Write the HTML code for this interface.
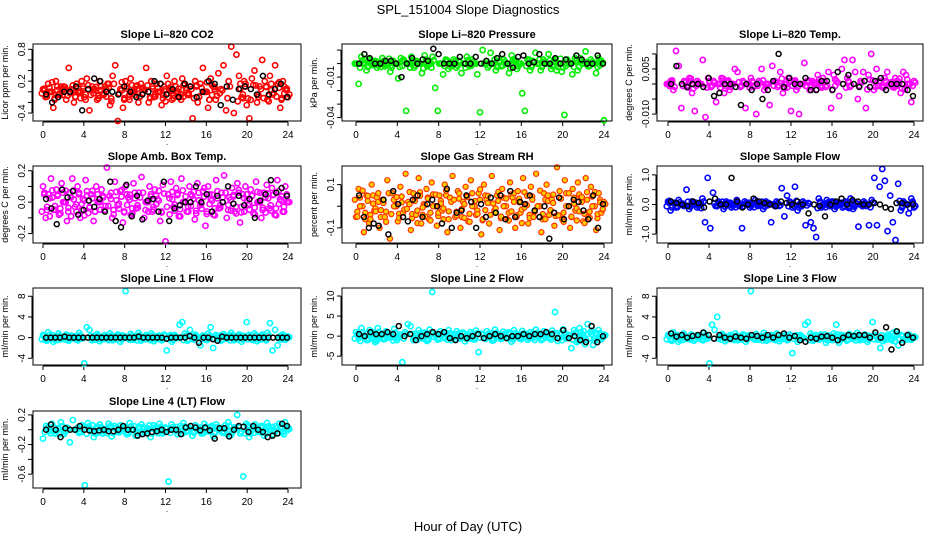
<!DOCTYPE html>
<html><head><meta charset="utf-8">
<style>
body{margin:0;background:#fff;}
svg{display:block;font-family:"Liberation Sans",sans-serif;}
</style></head>
<body>
<svg id="c" width="936" height="540">
<text x="468" y="14" text-anchor="middle" font-size="13">SPL_151004  Slope Diagnostics</text>
<text x="468" y="531" text-anchor="middle" font-size="13">Hour of Day (UTC)</text>
</svg>
<script>
const xTicks=[0,4,8,12,16,20,24];
const co2Vals=[0.05,-0.1,0.15,0.0,-0.3,0.2,-0.05,0.1,0.1,-0.15,0.45,0.05,-0.2,0.15,0.0,0.2,-0.1,0.25,-0.35,0.1,0.05,-0.15,0.2,-0.05,0.1,0.15,-0.25,0.3,0.5,-0.55,0.05,-0.3,0.2,-0.1,0.25,0.0,0.1,-0.2,0.15,0.05,0.45,-0.2,0.2,-0.1,0.15,0.0,-0.25,0.1,0.3,0.05,-0.15,0.2,0.0,-0.1,0.25,0.15,-0.05,0.1,-0.5,0.2,-0.2,0.15,0.45,0.0,-0.3,0.25,0.1,-0.15,0.35,0.05,0.5,-0.35,0.2,0.85,-0.4,0.7,0.3,-0.1,0.2,-0.25,-0.5,0.25,0.4,-0.2,0.1,0.6,0.2,-0.15,0.3,-0.05,0.5,0.15,-0.3,0.2,0.05,-0.1];
const co2Ref=[-0.05,-0.2,-0.1,0.0,0.0,0.1,-0.35,0.05,0.25,0.2,0.0,0.0,-0.05,0.1,0.0,-0.1,-0.05,0.0,0.2,0.15,-0.05,0.05,-0.1,0.15,0.1,-0.1,0.0,0.2,0.15,-0.25,0.1,-0.15,0.05,0.1,0.05,-0.05,0.3,-0.05,0.05,0.15,-0.1];
const presVals=[0,-0.015,0.005,0,-0.005,0.003,0,0.002,-0.003,0,0.004,-0.002,0,-0.006,0.002,0,-0.011,0.004,0.003,-0.035,0,0.005,-0.003,0.002,0,-0.007,0.006,-0.002,0,0.005,-0.018,-0.035,0,-0.008,0.003,-0.004,0,0.003,-0.003,0.002,-0.007,0,0.005,-0.002,0.003,0,-0.008,-0.036,0.01,0,-0.003,0.008,0,-0.005,0.004,-0.002,0.003,0,-0.007,0.006,0.002,-0.004,0,-0.022,-0.035,0.003,-0.005,0.002,0.008,0,-0.005,0.003,0,0.007,-0.004,0.002,-0.005,0,-0.006,-0.038,0.003,0,-0.008,0.004,-0.005,0.004,0,0.009,-0.002,0.003,0,-0.007,0.004,0.002,-0.042];
const presRef=[0,0.007,0.004,0,0,0.002,0.002,0,-0.01,0,0.004,0,0.003,0.002,0.011,0.007,0,0,0,0.005,0,0,0.005,0,0.002,0,0.004,0.007,0,-0.003,0.005,0.006,0,0.001,0.007,0,0,0.004,0,0.003,0,0.006,0.003,0,0,0.006,0];
const tempVals=[0,0.001,-0.002,0.011,0.006,-0.008,0.001,-0.001,0.002,-0.003,-0.009,0.001,0,0.008,-0.011,0.002,-0.001,0.001,-0.006,0,0.002,-0.003,0.001,-0.002,0,0.005,0.004,-0.001,0.001,-0.008,0,0.002,-0.001,-0.01,0.001,0.005,-0.002,0,-0.007,0.006,0.001,-0.001,0.004,-0.003,0,0.002,-0.009,0.001,-0.002,-0.01,0,0.007,0.001,-0.002,0.001,0,0.003,-0.001,0.002,-0.001,0.004,-0.008,0.003,0.001,-0.004,0.005,0.008,0.002,-0.001,0.008,0.004,-0.005,0.001,0.004,-0.008,0.003,0.01,-0.002,0.005,0.001,-0.001,0.002,0.004,0,-0.001,0.002,0.001,-0.003,0.004,0.003,0,-0.006,0.001];
const tempRef=[0,0.006,0,-0.001,0,0,-0.001,0.002,-0.004,-0.003,0,0,-0.001,-0.007,0,-0.002,0,-0.005,-0.002,0.001,0.01,-0.001,0.002,0,0,0.002,-0.002,-0.002,0.001,0.001,-0.002,0.004,0,0.003,0,-0.001,0.001,-0.001,0.001,0.002,-0.002,0,0,0,-0.002,-0.004];
const ambVals=[0.1,-0.1,0.05,0.15,-0.05,0.08,-0.08,0.12,0.0,-0.12,0.06,0.15,-0.03,0.1,-0.1,0.02,0.14,-0.07,0.05,-0.12,0.1,0.0,0.08,-0.05,0.22,0.04,-0.1,0.13,-0.02,0.07,-0.13,0.1,0.03,-0.08,0.12,-0.04,0.06,0.16,-0.1,0.0,0.1,-0.06,0.08,0.02,-0.12,0.11,-0.25,0.05,0.13,-0.03,0.09,-0.09,0.15,0.0,-0.06,0.1,0.04,-0.11,0.12,-0.02,0.07,-0.15,0.1,0.02,-0.08,0.14,-0.04,0.06,0.17,-0.1,0.03,0.09,-0.06,0.12,-0.13,0.05,0.1,-0.02,0.08,-0.07,0.13,0.0,-0.1,0.06,0.11,-0.04,0.09,-0.08,0.14,0.02,-0.06,0.1,0.0];
const ambRef=[0.02,-0.04,-0.14,0.08,0.03,0.07,-0.08,-0.05,0.01,-0.03,0.02,-0.06,0.13,-0.12,-0.16,0.11,-0.09,0.04,-0.11,0.01,0.02,-0.06,0.13,-0.12,-0.04,-0.02,0.0,0.0,0.1,0.0,0.05,-0.06,0.04,0.0,0.1,-0.01,0.04,-0.02,0.02,-0.1,0.01,0.05,0.14,0.06,0.09,0.04];
const rhVals=[-0.05,0.08,0.0,-0.12,0.05,-0.08,0.1,-0.02,0.04,-0.1,0.03,-0.05,0.12,-0.15,0.06,0.0,-0.07,0.09,-0.03,0.15,0.02,-0.11,0.06,-0.04,0.13,-0.08,0.01,0.08,-0.06,0.11,0.0,-0.09,0.05,-0.02,0.1,-0.12,0.04,0.14,-0.05,0.07,-0.1,0.02,0.09,-0.07,0.12,0.0,-0.04,0.06,-0.13,0.1,0.03,-0.08,0.14,-0.02,0.05,-0.11,0.08,0.0,-0.06,0.11,0.04,-0.1,0.07,-0.03,0.13,0.01,-0.08,0.09,-0.05,0.15,0.0,-0.12,0.06,0.1,-0.04,0.03,-0.09,0.18,0.07,-0.06,0.12,0.0,-0.1,0.08,-0.02,0.11,0.04,-0.07,0.13,-0.05,0.09,0.0,-0.11,0.06,-0.03,0.02];
const rhRef=[0.05,-0.05,-0.1,-0.08,-0.09,0.03,-0.13,0.07,0.01,-0.05,-0.07,0.03,0.05,-0.05,0.01,0.03,0.0,-0.08,0.08,-0.1,-0.03,-0.02,0.05,0.02,-0.1,0.01,-0.05,0.04,-0.03,0.05,-0.06,0.07,-0.05,0.02,0.01,0.05,-0.02,-0.05,0.0,-0.15,-0.03,0.04,-0.06,0.0,0.03,0.02,-0.02,-0.06,0.05,-0.1,0.01];
const sfVals=[0.1,-0.2,0.05,-0.1,0.15,0.0,-0.05,0.5,-0.15,0.1,0.0,-0.1,0.05,0.2,-0.6,0.9,-0.8,0.4,-0.05,0.1,0.0,-0.15,0.1,0.05,-0.1,0.0,0.15,-0.05,-0.8,0.1,0.0,-0.1,0.05,0.15,-0.05,0.0,-0.15,0.1,0.05,-0.6,0.0,0.1,-0.05,0.55,-0.4,0.3,0.1,-0.1,0.6,-0.2,0.0,0.1,-0.7,0.05,-0.6,-0.8,-1.1,0.2,-0.1,0.0,0.15,-0.05,0.1,-0.15,0.05,0.0,-0.1,0.1,-0.1,0.2,-0.15,0.05,-0.75,0.0,0.1,-0.05,-0.7,0.15,0.9,-0.7,0.6,1.2,0.8,-0.9,0.3,-0.6,-1.2,0.7,-0.2,0.1,0.0,-0.3,0.2,-0.1];
const sfRef=[0.1,0.05,0.0,-0.05,0.1,0.05,-0.1,0.1,0.2,0.0,0.0,0.9,0.1,-0.1,0.0,0.2,0.1,0.05,0.0,-0.05,0.1,0.05,0.0,0.1,0.0,-0.3,0.0,-0.05,-0.4,0.0,0.1,0.2,0.0,0.15,0.1,0.0,0.0,0.05,0.0,-0.1,-0.15,0.05,0.05,0.0,0.0];
const l1Vals=[0.5,-0.5,1,0,-0.8,0.3,0.8,-0.3,0,0.6,-0.6,0.4,0.2,-0.4,0.9,-0.2,-5,2,1.5,-0.5,0.3,0.7,-0.7,0.1,0.5,-0.3,0.8,-0.5,0.2,0.6,-0.8,0.4,9,-0.2,0.7,-0.4,0.3,0.9,-0.6,0.1,0.5,-0.3,0.8,-0.7,0.2,0.4,-0.5,0.6,-2.5,0.3,-0.8,0.5,-0.1,2.5,3,0.8,-0.6,1.5,-0.3,0.6,0.1,-1.5,0.4,-0.4,0.8,2,-2,0.5,0.2,-0.6,0.7,-0.2,0.4,0.9,-0.5,0.1,0.6,-0.8,0.3,3,0.5,-0.4,0.8,-0.7,0.2,0.6,-0.3,0.9,2.8,-2.5,1.5,-1.5,0.3,0.6,-0.4,0.2];
const l1Ref=[0,0,0,0,0.2,0,0,0,0,0,0,0,0,0,0,0,0,0,0,0,0.2,0,0,0,0,0,-0.2,0,0,0,0,0.3,0,-1,0,0,-0.3,-0.6,0.2,0,0,0,0,0,0,0,0,0,0,0,0,0,0];
const l2Vals=[1,-0.5,2,0,-1,1.5,0.5,-1.5,2,0.3,-0.8,1.2,0.6,-0.3,1.8,-1,0.4,-6.5,1,3,2.5,-1,0.6,1.5,-0.5,0.9,-1.2,1.6,11,0.3,-0.9,1.2,-0.4,0.8,1.5,-1,0.5,1.2,-0.6,0.9,-1.3,0.2,1,-0.8,1.4,-4,0.6,-0.5,1.2,0.3,-1.1,1.6,0.4,-0.7,1.1,-0.3,0.9,-1.4,1.5,0.2,-0.6,1.3,0.5,-0.9,1,-0.4,1.6,0.1,-1,1.2,0.6,-0.5,1.4,6,-1.2,0.8,1.7,-0.6,0.3,-3,1.5,-1.5,2,0.5,-2,3,1,-2.2,0.8,1.5,-0.8,0.4];
const l2Ref=[0.5,0,1,0.5,0.5,1,0.5,2.5,0,0.5,-1,0,0.5,1,0.5,1,-0.5,-1,0,-0.5,0,0.5,-0.5,0,0.5,0,-0.5,0,0,0.5,0,0.5,0.5,1,0.5,-0.5,1.5,-0.5,0,-1,-1.5,2.5,-1.5,0];
const l3Vals=[0.5,-0.5,1,0,-0.8,0.3,0.8,-0.3,0,0.6,-0.6,0.4,0.2,-0.4,0.9,-0.2,-5,2.5,1.5,4,0.3,0.7,-0.7,0.1,0.5,-0.3,0.8,-0.5,0.2,0.6,-0.8,0.4,9,-0.2,0.7,-0.4,0.3,0.9,-0.6,0.1,0.5,-0.3,0.8,-0.7,0.2,0.4,-0.5,0.6,-3,0.3,-0.8,0.5,-0.1,2.5,3,0.8,-0.6,0.5,-0.3,0.6,0.1,-1,0.4,-0.4,0.8,2.5,-1,0.5,0.2,-0.6,0.7,-0.2,0.4,0.9,-0.5,0.1,0.6,-0.8,0.3,3,0.5,-0.4,-2,-0.7,0.2,0.6,-0.3,0.9,1.2,-1.5,0.5,-0.5,0.3,0.6,-0.4,0.2];
const l3Ref=[0.8,0.2,0.5,0,0.3,0.5,1,0.5,-0.2,0.5,0,-0.2,0.2,0,-0.2,0.5,0.3,0,0.5,0,0.5,0.8,0,0.3,-0.5,-0.8,0,-0.2,0.2,0.3,0,-0.5,0,0.5,0.3,0.5,0.5,0,1,0,2,-2.3,1.2,-1,0.5,0];
const l4Vals=[-0.12,0.05,-0.02,0.08,-0.05,0.02,0.1,-0.06,0.03,-0.17,0.13,0.0,-0.04,0.06,-0.75,0.09,-0.02,-0.1,0.04,0.07,-0.05,0.01,0.08,-0.09,0.05,-0.03,0.06,0.02,-0.06,0.09,0.0,-0.08,0.04,0.07,-0.04,0.02,-0.1,0.06,-0.02,0.08,-0.05,0.03,-0.7,0.07,0.0,-0.06,0.05,0.09,-0.03,0.02,-0.08,0.06,0.01,-0.05,0.08,-0.02,0.04,-0.09,0.07,0.0,-0.04,0.06,0.1,-0.07,0.03,0.2,-0.05,-0.63,0.08,-0.1,0.04,0.07,-0.03,0.05,-0.08,0.09,0.0,-0.06,0.05,0.08,-0.04,0.1,0.02];
const l4Ref=[0.0,0.07,0.0,-0.1,0.02,0.0,0.0,0.05,0.0,-0.01,-0.02,-0.01,0.0,-0.02,-0.02,0.0,0.05,0.0,0.0,-0.08,-0.06,-0.05,-0.03,-0.02,0.0,-0.03,0.0,0.0,-0.06,0.03,0.05,0.03,-0.01,0.03,-0.01,-0.12,0.02,0.02,-0.09,0.0,0.05,0.04,-0.03,0.05,0.0,-0.03,-0.1,-0.08,-0.05,0.08,0.05];

const colL=[33,342,657], colR=[301,612,923], colX0=[43,356,668], colX24=[288,604,914];
const rowT=[44,166,288,411], BH=77;
const NS='http://www.w3.org/2000/svg';
const svg=document.getElementById('c');
function mk(tag,attrs,parent){const e=document.createElementNS(NS,tag);for(const k in attrs)e.setAttribute(k,attrs[k]);(parent||svg).appendChild(e);return e;}

const panels=[
 {id:'co2',c:0,r:0,title:'Slope Li\u2013820 CO2',yl:'Licor ppm per min.',min:-0.55,max:0.9,band:0.3,ticks:[-0.4,-0.2,0,0.2,0.4,0.6,0.8],labs:['-0.4','0.2','0.8'],labV:[-0.4,0.2,0.8],col:'#ff0000',fill:'none',v:co2Vals,k:co2Ref},
 {id:'pressure',c:1,r:0,title:'Slope Li\u2013820 Pressure',yl:'kPa per min.',min:-0.0425,max:0.0145,band:0.006,ticks:[-0.04,-0.03,-0.02,-0.01,0,0.01],labs:['-0.04','-0.01'],labV:[-0.04,-0.01],col:'#00ee00',fill:'none',v:presVals,k:presRef},
 {id:'temp',c:2,r:0,title:'Slope Li\u2013820 Temp.',yl:'degrees C per min.',min:-0.0123,max:0.0133,band:0.003,ticks:[-0.01,-0.005,0,0.005,0.01],labs:['-0.010','0.005'],labV:[-0.01,0.005],col:'#ff00ff',fill:'none',v:tempVals,k:tempRef},
 {id:'amb-box',c:0,r:1,title:'Slope Amb. Box Temp.',yl:'degrees C per min.',min:-0.26,max:0.23,band:0.15,ticks:[-0.2,-0.1,0,0.1,0.2],labs:['-0.2','0.0','0.2'],labV:[-0.2,0,0.2],col:'#ff00ff',fill:'none',v:ambVals,k:ambRef},
 {id:'rh',c:1,r:1,title:'Slope Gas Stream RH',yl:'percent per min.',min:-0.17,max:0.186,band:0.13,ticks:[-0.1,0,0.1],labs:['-0.1','0.1'],labV:[-0.1,0.1],col:'#ff3300',fill:'#ffcc00',v:rhVals,k:rhRef},
 {id:'sample-flow',c:2,r:1,title:'Slope Sample Flow',yl:'mI/min per min.',min:-1.3,max:1.3,band:0.25,ticks:[-1,-0.5,0,0.5,1],labs:['-1.0','0.0','1.0'],labV:[-1,0,1],col:'#0000ff',fill:'none',v:sfVals,k:sfRef},
 {id:'line1',c:0,r:2,title:'Slope Line 1 Flow',yl:'mI/min per min.',min:-5.3,max:9.6,band:1.2,ticks:[-4,0,4,8],labs:['-4','0','4','8'],labV:[-4,0,4,8],col:'#00ffff',fill:'none',v:l1Vals,k:l1Ref},
 {id:'line2',c:1,r:2,title:'Slope Line 2 Flow',yl:'mI/min per min.',min:-7.2,max:12,band:2.2,ticks:[-5,0,5,10],labs:['-5','0','5','10'],labV:[-5,0,5,10],col:'#00ffff',fill:'none',v:l2Vals,k:l2Ref},
 {id:'line3',c:2,r:2,title:'Slope Line 3 Flow',yl:'mI/min per min.',min:-5.3,max:9.6,band:1.2,ticks:[-4,0,4,8],labs:['-4','0','4','8'],labV:[-4,0,4,8],col:'#00ffff',fill:'none',v:l3Vals,k:l3Ref},
 {id:'line4',c:0,r:3,title:'Slope Line 4 (LT) Flow',yl:'mI/min per min.',min:-0.787,max:0.253,band:0.11,ticks:[-0.6,-0.4,-0.2,0,0.2],labs:['-0.6','-0.2','0.2'],labV:[-0.6,-0.2,0.2],col:'#00ffff',fill:'none',v:l4Vals,k:l4Ref}
];

panels.forEach(p=>{
  const L=colL[p.c],R=colR[p.c],T=rowT[p.r],B=T+BH;
  const g=mk('g',{});
  
  
  const xs=h=>colX0[p.c]+(colX24[p.c]-colX0[p.c])*h/24;
  const ys=v=>B-(v-p.min)/(p.max-p.min)*BH;
  const t=mk('text',{x:(L+R)/2,y:T-6,'text-anchor':'middle','font-size':'11','font-weight':'bold'},g);
  t.textContent=p.title;
  
  
  const yt=mk('text',{transform:`translate(${L-25},${(T+B)/2}) rotate(-90)`,'text-anchor':'middle','font-size':'9'},g);
  yt.textContent=p.yl;
  
  
  const xa=mk('g',{},g);
  
  
  mk('line',{x1:xs(0),x2:xs(24),y1:B+1,y2:B+1,stroke:'#000','stroke-width':1},xa);
  xTicks.forEach(h=>{
    mk('line',{x1:xs(h),x2:xs(h),y1:B+1,y2:B+5,stroke:'#000'},xa);
    const tl=mk('text',{x:xs(h),y:B+17,'text-anchor':'middle','font-size':'10'},xa);
    tl.textContent=h;
    
    
  });
  const dot=mk('text',{x:(L+R)/2,y:B+24,'text-anchor':'middle','font-size':'8'},xa);
  dot.textContent='.';
  const ya=mk('g',{},g);
  
  
  mk('line',{x1:L-1,x2:L-1,y1:ys(p.ticks[0]),y2:ys(p.ticks[p.ticks.length-1]),stroke:'#000'},ya);
  p.ticks.forEach(v=>mk('line',{x1:L-5,x2:L-1,y1:ys(v),y2:ys(v),stroke:'#000'},ya));
  p.labs.forEach((s,i)=>{
    const yv=ys(p.labV[i]);
    const tl=mk('text',{transform:`translate(${L-8},${yv}) rotate(-90)`,'text-anchor':'middle','font-size':'10'},ya);
    tl.textContent=s;
    
    
  });
  const sc=mk('g',{},g);
  
  
  const sw=p.fill==='none'?1.6:1.2;
  p.v.forEach((v,i)=>{
    const h=24*i/(p.v.length-1);
    const c=mk('circle',{cx:xs(h),cy:ys(v),r:2.6,fill:p.fill,stroke:p.col,'stroke-width':sw},sc);
    
    
    if(Math.abs(v)<=p.band){
      const c2=mk('circle',{cx:xs(h)+1.3,cy:ys(v*0.5),r:2.6,fill:p.fill,stroke:p.col,'stroke-width':sw},sc);
      
      
      const c3=mk('circle',{cx:xs(h)-1.2,cy:ys(-v*0.6),r:2.6,fill:p.fill,stroke:p.col,'stroke-width':sw},sc);
      
      
    }
  });
  const sk=mk('g',{},g);
  
  
  p.k.forEach((v,i)=>{
    const h=0.3+23.6*i/(p.k.length-1);
    const c=mk('circle',{cx:xs(h),cy:ys(v),r:2.5,fill:'none',stroke:'#000','stroke-width':1.5},sk);
    
    
  });
  const box=mk('rect',{x:L,y:T,width:R-L,height:BH,fill:'none',stroke:'#000','stroke-width':1},g);
  
  
});
</script>
</body></html>
